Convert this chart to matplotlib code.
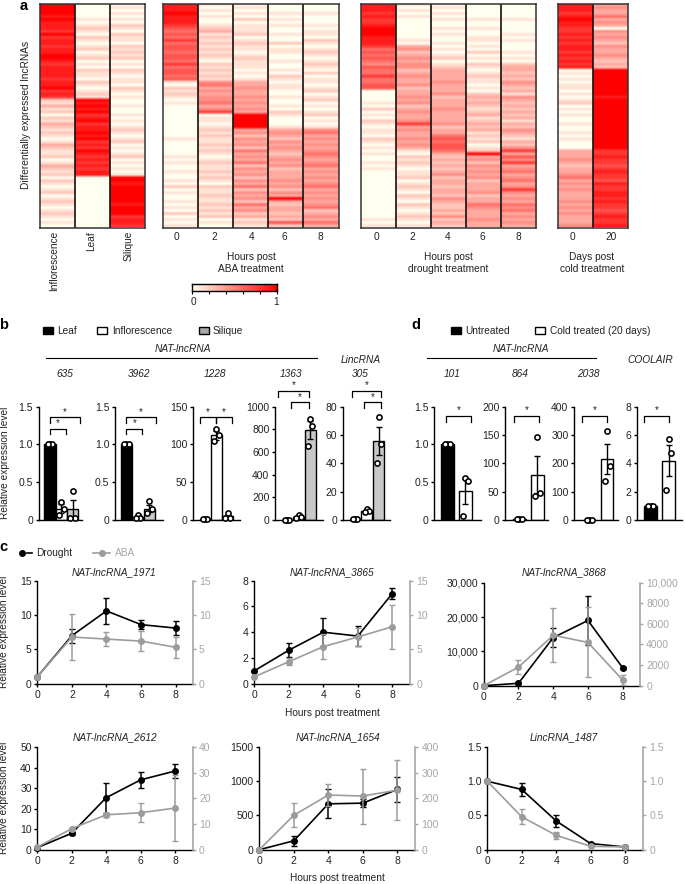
#!/usr/bin/python3
'''
Multi panel lncRNA figure: heatmaps (a), tissue bars (b), time courses (c),
cold treatment bars (d). All layout numbers are in pixels of a 685x884 image.
'''
import numpy as np
from matplotlib import pyplot as plt
from matplotlib.colors import LinearSegmentedColormap
from matplotlib.transforms import blended_transform_factory

plt.rcParams['font.family'] = ['Liberation Sans', 'DejaVu Sans']
plt.rcParams['font.size'] = 7
plt.rcParams['axes.linewidth'] = 1.0

W, H = 685, 884
INK = '#222222'
ABA_GREY = '#9c9c9c'
RIGHT_GREY = '#a6a6a6'

# Heatmap rows, top to bottom, one digit per row (0 = none, 9 = full red)
tissue_inflorescence = ('99998988' '87978878' '89987888' '87889787'
                        '21312021' '32121013' '21120132' '12021012' '01210121' '010')
tissue_leaf = ('00000101' '21021012' '01201021' '10210121'
               '98989789' '78898978' '79878787' '88' '00000000000000000')
tissue_silique = ('01010102' '10211021' '21201021' '01102101' '00100101' '01210120' '10120101' '01'
                  '99899999' '98999788' '7')

aba_0 = ('88898887' '656575665665756656'
         '10212101' '00000000' '00010000' '01010010' '01020100' '10102010' '1')
aba_2 = ('10101001' '23121212' '12102121' '21' '45343445347'
         '01101212' '11212101' '21121210' '21121121' '212010')
aba_4 = ('01010201' '11201211' '01211101' '01' '33433434343' '99999'
         '34243425' '34352434' '24352434' '25342312' '1')
aba_6 = ('00010101' '00100201' '10010010' '21011001' '00102100' '01'
         '34324343' '23434233' '3434243' '9' '323323262')
aba_8 = ('00010001' '01102101' '21012102' '01101201' '20101201' '01'
         '45343434' '54345343' '43453434' '34523435' '3')

drought_0 = ('88878778' '9998887' '56565465' '575566'
             '00001020' '10210110' '21010100' '10100000' '00000000' '000101')
drought_2 = ('10101000' '000010' '34234344' '23433423' '34342343' '34' '7' '34334343'
             '10212101' '12012102' '10210121' '01')
drought_4 = ('01010100' '10100101' '01201' '23333433' '34233343' '3334233' '565665'
             '32323234' '23323324' '32232423' '2')
drought_6 = ('00000100' '10011010' '20102101' '211010' '23232123' '12323121' '2012' '9'
             '34243434' '23334233' '54333433')
drought_8 = ('00000100' '00101000' '1010' '23323243' '23143232' '32313243' '21324'
             '73647345' '34534743' '43545343' '43')

cold_0 = ('88878988' '77878788' '787878' '01010110' '10120101' '00100101' '000'
          '33343233' '45343433' '34343433' '34')
cold_20 = ('34335343' '04343243' '343232' '99999999' '98999999' '99999999' '999'
           '77877678' '77687788' '78776787' '78')

# Panel b: bar means, errors, replicate points (leaf, inflorescence, silique)
b_635_mean = [1, 0.15, 0.14]
b_635_err = [0, 0.06, 0.13]
b_635_pts = [[1, 1, 1], [0.24, 0.15, 0.06], [0.39, 0.02, 0.03]]
b_3962_mean = [1, 0.04, 0.15]
b_3962_err = [0, 0.02, 0.05]
b_3962_pts = [[1, 1, 1], [0.07, 0.02, 0.03], [0.25, 0.14, 0.09]]
b_1228_mean = [1, 112, 5]
b_1228_err = [0, 6, 2]
b_1228_pts = [[1, 1, 1], [121, 113, 105], [9, 3, 2]]
b_1363_mean = [3, 30, 795]
b_1363_err = [1, 8, 80]
b_1363_pts = [[2, 3, 4], [45, 25, 20], [890, 830, 650]]
b_305_mean = [1, 6.5, 56]
b_305_err = [0.2, 0.5, 10]
b_305_pts = [[1, 1, 1], [7.5, 6.5, 6], [73, 54, 40]]

# Panel d: untreated, cold treated
d_101_mean = [1, 0.38]
d_101_err = [0, 0.17]
d_101_pts = [[1, 1, 1], [0.55, 0.52, 0.05]]
d_864_mean = [1, 80]
d_864_err = [0, 33]
d_864_pts = [[1, 1, 1], [147, 48, 43]]
d_2038_mean = [1, 215]
d_2038_err = [0, 52]
d_2038_pts = [[1, 1, 1], [315, 190, 137]]
d_cool_mean = [1, 4.2]
d_cool_err = [0, 1.1]
d_cool_pts = [[1, 1, 1], [5.75, 4.7, 2.1]]

# Panel c: time courses
hours = [0, 2, 4, 6, 8]
c_1971_dr = [1, 7, 10.6, 8.6, 8.1]
c_1971_dr_err = [0, 1, 1.9, 0.7, 1.0]
c_1971_aba = [1, 6.8, 6.5, 6.2, 5.3]
c_1971_aba_err = [0, 3.4, 1, 1.5, 1.5]
c_3865_dr = [1, 2.6, 4.0, 3.7, 7.0]
c_3865_dr_err = [0, 0.55, 1.1, 0.75, 0.4]
c_3865_aba = [1, 3.2, 5.4, 6.8, 8.3]
c_3865_aba_err = [0, 0.5, 1.8, 1.3, 3.2]
c_3868_dr = [0, 700, 14000, 19000, 5200]
c_3868_dr_err = [0, 300, 2800, 7000, 200]
c_3868_aba = [0, 1800, 4900, 4200, 550]
c_3868_aba_err = [0, 650, 2600, 3400, 450]
c_2612_dr = [1, 8, 25.3, 34, 38.3]
c_2612_dr_err = [0, 0.8, 7.2, 4, 3.6]
c_2612_aba = [1, 8.2, 13.6, 14.4, 16.2]
c_2612_aba_err = [0, 0.5, 0.8, 3.8, 12.7]
c_1654_dr = [0, 130, 670, 680, 880]
c_1654_dr_err = [0, 70, 210, 60, 178]
c_1654_aba = [0, 134, 213, 209, 232]
c_1654_aba_err = [0, 47, 41, 107, 118]
c_1487_dr = [1, 0.88, 0.42, 0.09, 0.04]
c_1487_dr_err = [0, 0.1, 0.09, 0.01, 0.01]
c_1487_aba = [1, 0.48, 0.21, 0.05, 0.04]
c_1487_aba_err = [0, 0.11, 0.05, 0.01, 0.01]

fig = plt.figure(figsize=(W / 100, H / 100), dpi=100)
heat_cmap = LinearSegmentedColormap.from_list('heat', ['#fffff0', '#ff0000'])


def px_axes(left, top, right, bottom):
    '''Axes from pixel edges, y measured from the top of the image.'''
    return fig.add_axes([left / W, 1 - bottom / H, (right - left) / W, (bottom - top) / H])


def label(x, y, s, **kw):
    kw.setdefault('ha', 'center')
    kw.setdefault('va', 'center')
    kw.setdefault('color', INK)
    kw.setdefault('fontsize', 7)
    fig.text(x / W, 1 - y / H, s, **kw)


def heat_panel(left, right, columns):
    ax = px_axes(left, 3.5, right, 227.5)
    for i, col in enumerate(columns):
        rows = np.array([int(c) for c in col])[:, None]
        # bilinear softens the stripes a little, the original is a downscaled raster
        ax.imshow(rows, extent=[i, i + 1, 0, 1], aspect='auto', cmap=heat_cmap,
                  vmin=0, vmax=9, interpolation='bilinear')
    ax.set_xlim(0, len(columns))
    ax.set_ylim(0, 1)
    ax.set_xticks([])
    ax.set_yticks([])
    for i in range(1, len(columns)):
        ax.axvline(i, color='#111111', lw=1.2)
    for side in ax.spines.values():
        side.set_color('#333333')
        side.set_linewidth(1.1)


def bar_panel(left, right, first, step, width, mean, err, pts, ymax, ticks, ticklabels,
              colors, brackets):
    ax = px_axes(left, 406.7, right, 520)
    xpos = np.arange(len(mean))
    bar_w = width / step
    ax.bar(xpos, mean, width=bar_w, color=colors, edgecolor='black', linewidth=1.0, zorder=2)
    ax.errorbar(xpos, mean, yerr=err, fmt='none', ecolor='black', elinewidth=1.0,
                capsize=2.2, capthick=1.0, zorder=3)
    for x, group in zip(xpos, pts):
        ax.scatter(x + np.array([0.0, 0.2, -0.2]) * bar_w, group, s=14, facecolor='white',
                   edgecolor='black', linewidth=1.15, zorder=4, clip_on=False)
    ax.set_xlim(-(first - left) / step, (right - first) / step)
    ax.set_ylim(0, ymax)
    ax.set_yticks(ticks)
    ax.set_yticklabels(ticklabels, fontsize=7.5, color=INK)
    ax.set_xticks([])
    ax.tick_params(axis='y', length=2.5, width=1.0, pad=1.5)
    ax.spines['top'].set_visible(False)
    ax.spines['right'].set_visible(False)
    trans = blended_transform_factory(ax.transData, ax.transAxes)
    for x0, x1, level in brackets:
        ax.plot([x0, x0, x1, x1], [level - 0.05, level, level, level - 0.05], color='black',
                lw=0.9, transform=trans, clip_on=False)
        ax.text((x0 + x1) / 2, level + 0.005, '*', transform=trans, ha='center', va='bottom',
                fontsize=7, color=INK)


def line_panel(left, x8, right, top, bottom, dr, dr_err, aba, aba_err, lticks, lticklabels,
               rticks, rticklabels):
    ax = px_axes(left, top, right, bottom)
    ax.errorbar(hours, dr, yerr=dr_err, color='black', marker='o', ms=4, lw=1.2,
                elinewidth=1.1, capsize=2.2, capthick=1.0, clip_on=False, zorder=3)
    ax.set_xlim(0, 8 * (right - left) / (x8 - left))
    ax.set_ylim(0, lticks[-1])
    ax.set_xticks(hours)
    ax.set_yticks(lticks)
    ax.set_yticklabels(lticklabels, fontsize=7.5, color=INK)
    ax.tick_params(axis='x', length=2.5, width=1.0, labelsize=7.5, labelcolor=INK, pad=2)
    ax.tick_params(axis='y', length=2.5, width=1.0, pad=1.5)
    ax.spines['top'].set_visible(False)
    ax.spines['right'].set_visible(False)
    ax2 = ax.twinx()
    ax2.errorbar(hours, aba, yerr=aba_err, color=ABA_GREY, marker='o', ms=4, lw=1.2,
                 elinewidth=1.1, capsize=2.2, capthick=1.0, clip_on=False, zorder=4)
    ax2.set_ylim(0, rticks[-1])
    ax2.set_yticks(rticks)
    ax2.set_yticklabels(rticklabels, fontsize=7.5, color=RIGHT_GREY)
    ax2.tick_params(axis='y', length=2.5, width=1.0, color=RIGHT_GREY, pad=2)
    for name in ['top', 'left', 'bottom']:
        ax2.spines[name].set_visible(False)
    ax2.spines['right'].set_color(RIGHT_GREY)
    ax2.spines['right'].set_linewidth(1.2)


def swatch(left, y, color):
    fig.patches.append(plt.Rectangle((left / W, 1 - (y + 3.7) / H), 10 / W, 7.4 / H,
                                     transform=fig.transFigure, facecolor=color,
                                     edgecolor='black', linewidth=1.0))


# Panel a
heat_panel(39.5, 144.5, [tissue_inflorescence, tissue_leaf, tissue_silique])
heat_panel(162.5, 338.5, [aba_0, aba_2, aba_4, aba_6, aba_8])
heat_panel(360.7, 536, [drought_0, drought_2, drought_4, drought_6, drought_8])
heat_panel(558.3, 628.3, [cold_0, cold_20])

label(24, 6, 'a', fontsize=10.5, fontweight='bold', color='black')
label(26, 115, 'Differentially expressed lncRNAs', rotation=90, fontsize=7.3)
for x, s in zip([54, 91, 129], ['Inflorescence', 'Leaf', 'Silique']):
    label(x, 231, s, rotation=90, va='top', fontsize=7.3)
for x, s in zip([176, 214.7, 251.7, 284, 320], ['0', '2', '4', '6', '8']):
    label(x, 236.5, s, fontsize=7.3)
for x, s in zip([376.7, 412.7, 447.3, 482.3, 518.7], ['0', '2', '4', '6', '8']):
    label(x, 236.5, s, fontsize=7.3)
for x, s in zip([572.3, 610.7], ['0', '20']):
    label(x, 236.5, s, fontsize=7.3)
label(251, 256.5, 'Hours post', fontsize=7.3)
label(251, 269, 'ABA treatment', fontsize=7.3)
label(448, 256.5, 'Hours post', fontsize=7.3)
label(448, 269, 'drought treatment', fontsize=7.3)
label(592, 256.5, 'Days post', fontsize=7.3)
label(592, 269, 'cold treatment', fontsize=7.3)

cbar = px_axes(191.5, 284, 277, 291)
cbar.imshow(np.linspace(0, 1, 100)[None, :], extent=[0, 1, 0, 1], aspect='auto', cmap=heat_cmap,
            vmin=0, vmax=1)
cbar.set_yticks([])
cbar.set_xticks(np.arange(0, 1.01, 0.2))
cbar.set_xticklabels([])
cbar.tick_params(axis='x', length=2, width=0.8)
label(193, 302, '0', fontsize=7.3)
label(276, 302, '1', fontsize=7.3)

# Panel b
leaf_cols = ['black', 'white', '#c8c8c8']
rel_ticks = [0, 0.5, 1.0, 1.5]
rel_labels = ['0', '0.5', '1.0', '1.5']
bar_panel(38.5, 81.7, 50, 11.3, 11.3, b_635_mean, b_635_err, b_635_pts, 1.5, rel_ticks, rel_labels,
          leaf_cols, [(0, 2.65, 0.906), (0, 1.38, 0.806)])
bar_panel(115, 163, 126.3, 11.5, 11.3, b_3962_mean, b_3962_err, b_3962_pts, 1.5, rel_ticks, rel_labels,
          leaf_cols, [(0, 2.6, 0.906), (0, 1.4, 0.806)])
bar_panel(192.7, 240, 205, 11.3, 11, b_1228_mean, b_1228_err, b_1228_pts, 150, [0, 50, 100, 150],
          ['0', '50', '100', '150'], leaf_cols, [(-0.44, 1, 0.906), (1, 2.4, 0.906)])
bar_panel(275, 322.7, 287, 11.5, 11, b_1363_mean, b_1363_err, b_1363_pts, 1000,
          [0, 200, 400, 600, 800, 1000], ['0', '200', '400', '600', '800', '1000'], leaf_cols,
          [(-0.75, 1.9, 1.14), (0.35, 1.9, 1.04)])
bar_panel(342.7, 390, 355.3, 11.7, 11, b_305_mean, b_305_err, b_305_pts, 80, [0, 20, 40, 60, 80],
          ['0', '20', '40', '60', '80'], leaf_cols, [(-0.3, 2.2, 1.14), (0.75, 2.2, 1.04)])

label(4, 325, 'b', fontsize=10.5, fontweight='bold', color='black')
swatch(43, 330.7, 'black')
label(57, 330.7, 'Leaf', ha='left', fontsize=7.3)
swatch(96.7, 330.7, 'white')
label(112, 330.7, 'Inflorescence', ha='left', fontsize=7.3)
swatch(199, 330.7, '#a8a8a8')
label(213, 330.7, 'Silique', ha='left', fontsize=7.3)
label(183, 349, 'NAT-lncRNA', style='italic', fontsize=7.3)
fig.add_artist(plt.Line2D([45.7 / W, 317.3 / W], [1 - 358.3 / H] * 2, color='black', lw=0.8))
label(361, 360, 'LincRNA', style='italic', fontsize=7.3)
for x, s in zip([65, 139, 215, 291, 360], ['635', '3962', '1228', '1363', '305']):
    label(x, 374, s, style='italic', fontsize=7.3)
label(5, 463, 'Relative expression level', rotation=90, fontsize=7.3)

# Panel d
cold_cols = ['black', 'white']
bar_panel(434.3, 481, 447.3, 18, 12.5, d_101_mean, d_101_err, d_101_pts, 1.5, rel_ticks, rel_labels,
          cold_cols, [(-0.05, 1.3, 0.918)])
bar_panel(505, 548, 519.3, 18, 12.5, d_864_mean, d_864_err, d_864_pts, 200, [0, 50, 100, 150, 200],
          ['0', '50', '100', '150', '200'], cold_cols, [(-0.28, 1.07, 0.918)])
bar_panel(574, 618, 589.3, 17.7, 12.5, d_2038_mean, d_2038_err, d_2038_pts, 400, [0, 100, 200, 300, 400],
          ['0', '100', '200', '300', '400'], cold_cols, [(-0.4, 1, 0.918)])
bar_panel(636.7, 681.7, 650.7, 18, 12.5, d_cool_mean, d_cool_err, d_cool_pts, 8, [0, 2, 4, 6, 8],
          ['0', '2', '4', '6', '8'], cold_cols, [(-0.35, 1, 0.918)])

label(416, 325, 'd', fontsize=10.5, fontweight='bold', color='black')
swatch(450.7, 330.7, 'black')
label(465.7, 330.7, 'Untreated', ha='left', fontsize=7.3)
swatch(535, 330.7, 'white')
label(550, 330.7, 'Cold treated (20 days)', ha='left', fontsize=7.3)
label(520.7, 349, 'NAT-lncRNA', style='italic', fontsize=7.3)
fig.add_artist(plt.Line2D([427.3 / W, 595.7 / W], [1 - 358.3 / H] * 2, color='black', lw=0.8))
label(650, 360, 'COOLAIR', style='italic', fontsize=7.3)
for x, s in zip([451.7, 520, 588], ['101', '864', '2038']):
    label(x, 374, s, style='italic', fontsize=7.3)

# Panel c
line_panel(37.3, 175.7, 192.7, 580.7, 683.7, c_1971_dr, c_1971_dr_err, c_1971_aba, c_1971_aba_err,
           [0, 5, 10, 15], ['0', '5', '10', '15'], [0, 5, 10, 15], ['0', '5', '10', '15'])
line_panel(254.3, 392.3, 410, 580.7, 683.7, c_3865_dr, c_3865_dr_err, c_3865_aba, c_3865_aba_err,
           [0, 2, 4, 6, 8], ['0', '2', '4', '6', '8'], [0, 5, 10, 15], ['0', '5', '10', '15'])
line_panel(483.7, 622.7, 640, 582.7, 685.7, c_3868_dr, c_3868_dr_err, c_3868_aba, c_3868_aba_err,
           [0, 10000, 20000, 30000], ['0', '10,000', '20,000', '30,000'],
           [0, 2000, 4000, 6000, 8000, 10000], ['0', '2000', '4000', '6000', '8000', '10,000'])
line_panel(37.3, 175, 192.7, 747, 849.7, c_2612_dr, c_2612_dr_err, c_2612_aba, c_2612_aba_err,
           [0, 10, 20, 30, 40, 50], ['0', '10', '20', '30', '40', '50'],
           [0, 10, 20, 30, 40], ['0', '10', '20', '30', '40'])
line_panel(259.3, 397.3, 415, 747, 849.7, c_1654_dr, c_1654_dr_err, c_1654_aba, c_1654_aba_err,
           [0, 500, 1000, 1500], ['0', '500', '1000', '1500'],
           [0, 100, 200, 300, 400], ['0', '100', '200', '300', '400'])
line_panel(487.3, 625, 643.3, 747, 849.7, c_1487_dr, c_1487_dr_err, c_1487_aba, c_1487_aba_err,
           [0, 0.5, 1.0, 1.5], ['0', '0.5', '1.0', '1.5'],
           [0, 0.5, 1.0, 1.5], ['0', '0.5', '1.0', '1.5'])

label(3, 546.7, 'c', fontsize=10.5, fontweight='bold', color='black')
fig.add_artist(plt.Line2D([22 / W], [1 - 552.5 / H], marker='o', ms=4, color='black'))
fig.add_artist(plt.Line2D([27 / W, 32 / W], [1 - 552.5 / H] * 2, color='black', lw=1.2))
label(36, 552.5, 'Drought', ha='left', fontsize=7.3)
fig.add_artist(plt.Line2D([93 / W, 110 / W], [1 - 552.5 / H] * 2, color=ABA_GREY, lw=1.2))
fig.add_artist(plt.Line2D([102 / W], [1 - 552.5 / H], marker='o', ms=4, color=ABA_GREY))
label(115, 552.5, 'ABA', ha='left', fontsize=7.3, color=RIGHT_GREY)

for x, y, s in [(114, 572.3, 'NAT-lncRNA_1971'), (331.5, 572.3, 'NAT-lncRNA_3865'),
                (563.7, 572.3, 'NAT-lncRNA_3868'), (115, 736.7, 'NAT-lncRNA_2612'),
                (338, 736.7, 'NAT-lncRNA_1654'), (564, 736.7, 'LincRNA_1487')]:
    label(x, y, s, style='italic', fontsize=7.3)
label(332, 712.7, 'Hours post treatment', fontsize=7.3)
label(337.5, 878.3, 'Hours post treatment', fontsize=7.3)
label(4.5, 632, 'Relative expression level', rotation=90, fontsize=7.3)
label(4.5, 798, 'Relative expression level', rotation=90, fontsize=7.3)

fig.savefig('out.png', dpi=100)
